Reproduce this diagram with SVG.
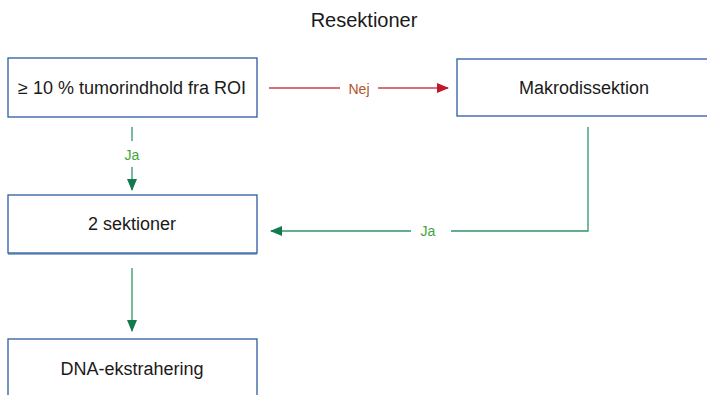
<svg xmlns="http://www.w3.org/2000/svg" width="707" height="395" viewBox="0 0 707 395">
<style>
.box{fill:#fff;stroke:#2d5ba3;stroke-width:1.3}
.t{font-family:"Liberation Sans","DejaVu Sans",sans-serif;font-size:18px;fill:#1a1a1a;text-anchor:middle;dominant-baseline:central}
.red{stroke:#c8424f;stroke-width:1.3;fill:none}
.grn{stroke:#2e9568;stroke-width:1.3;fill:none}
.lbl{font-family:"Liberation Sans","DejaVu Sans",sans-serif;font-size:14px;text-anchor:middle;dominant-baseline:central}
</style>
<defs>
<marker id="ar" markerWidth="12" markerHeight="10" refX="11" refY="5" orient="auto" markerUnits="userSpaceOnUse"><path d="M0,0 L12,5 L0,10 Z" fill="#c0182c"/></marker>
<marker id="ag" markerWidth="12" markerHeight="10" refX="11" refY="5" orient="auto" markerUnits="userSpaceOnUse"><path d="M0,0 L12,5 L0,10 Z" fill="#137a4e"/></marker>
</defs>
<rect width="707" height="395" fill="#fff"/>
<text class="t" x="364" y="20" style="font-size:20px">Resektioner</text>
<g id="n1"><rect class="box" x="8" y="58" width="249" height="59"/><text class="t" x="132" y="88">≥ 10 % tumorindhold fra ROI</text></g>
<g id="n2"><rect class="box" x="457" y="59" width="260" height="57"/><text class="t" x="584" y="88">Makrodissektion</text></g>
<g id="n3"><rect class="box" x="8" y="195" width="249" height="58"/><line x1="8" y1="254" x2="257" y2="254" stroke="#2d5ba3" stroke-width="1"/><text class="t" x="132" y="224">2 sektioner</text></g>
<g id="n4"><rect class="box" x="8" y="339" width="249" height="70"/><text class="t" x="132" y="369">DNA-ekstrahering</text></g>
<g id="edges">
<line class="red" x1="269" y1="88" x2="340" y2="88"/>
<line class="red" x1="378" y1="88" x2="448" y2="88" marker-end="url(#ar)"/>
<text class="lbl" x="359" y="89" fill="#b5532a">Nej</text>
<line class="grn" x1="132" y1="127" x2="132" y2="141"/>
<line class="grn" x1="132" y1="167" x2="132" y2="190" marker-end="url(#ag)"/>
<text class="lbl" x="132" y="155" fill="#3fa53a">Ja</text>
<polyline class="grn" points="588,127 588,231 451,231"/>
<line class="grn" x1="411" y1="231" x2="271" y2="231" marker-end="url(#ag)"/>
<text class="lbl" x="428" y="231" fill="#3fa53a">Ja</text>
<line class="grn" x1="132" y1="268" x2="132" y2="331" marker-end="url(#ag)"/>
</g>
</svg>
